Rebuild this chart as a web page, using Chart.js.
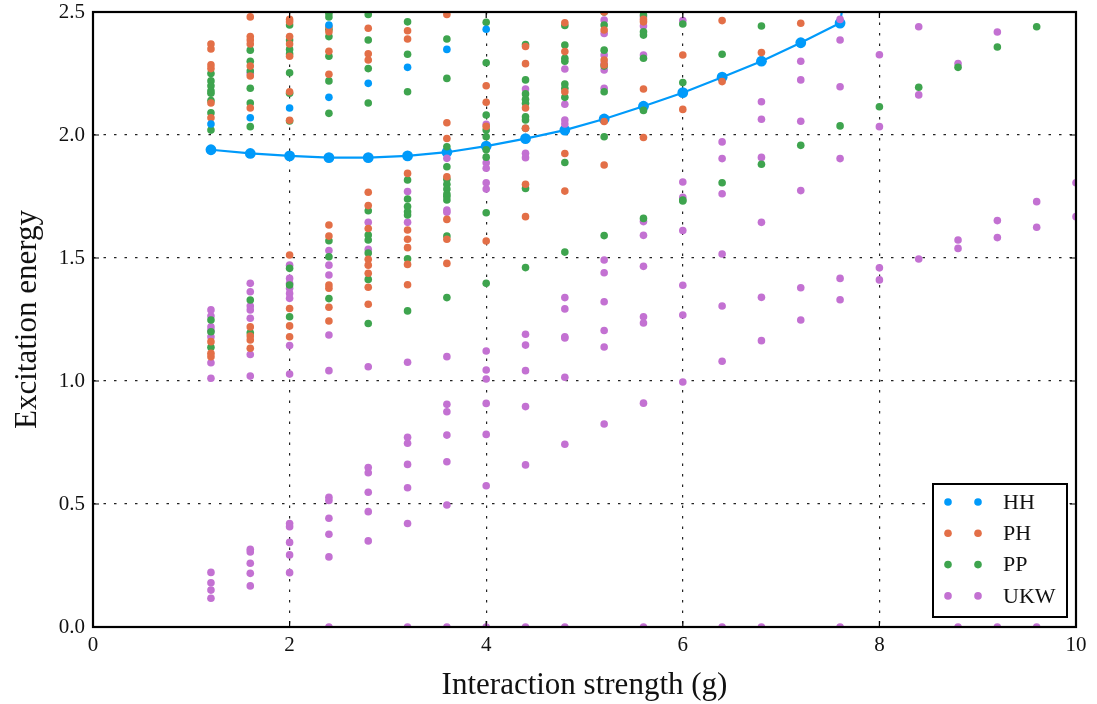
<!DOCTYPE html>
<html>
<head>
<meta charset="utf-8">
<script src="https://cdn.jsdelivr.net/npm/chart.js@4"></script>
<style>
html,body{margin:0;padding:0;background:#fff;}
#wrap{width:1097px;height:704px;}
</style>
</head>
<body>
<div id="wrap"><canvas id="c" width="1097" height="704"></canvas></div>
<script>
// ---- data ----
const seriesNames = ['HH', 'PH', 'PP', 'UKW'];
const seriesColors = ['#009AFA', '#E36F47', '#3EA44E', '#C371D2'];
const gValues = [1.2, 1.6, 2.0, 2.4, 2.8, 3.2, 3.6, 4.0, 4.4, 4.8, 5.2, 5.6, 6.0, 6.4, 6.8, 7.2, 7.6, 8.0, 8.4, 8.8, 9.2, 9.6, 10.0];
const xTickLabels = ['0', '2', '4', '6', '8', '10'];
const yTickLabels = ['0.0', '0.5', '1.0', '1.5', '2.0', '2.5'];

// lowest HH branch (line) for g = 1.2 ... 8.0
const hhLineG = [1.2, 1.6, 2.0, 2.4, 2.8, 3.2, 3.6, 4.0, 4.4, 4.8, 5.2, 5.6, 6.0, 6.4, 6.8, 7.2, 7.6, 8.0];
const hhLineE = [1.94, 1.925, 1.915, 1.908, 1.908, 1.915, 1.93, 1.955, 1.985, 2.02, 2.065, 2.117, 2.172, 2.235, 2.30, 2.375, 2.455, 3.5];

// excitation energies per g column (same order as gValues)
const hhE = [
  [2.045], [2.07], [2.11], [2.447, 2.153], [2.21], [2.275], [2.348], [2.43],
  [], [], [], [], [], [], [], [], [], [], [], [], [], [], []
];
const phE = [
  [2.37, 2.35, 2.285, 2.27, 2.13, 2.07, 1.16, 1.113, 1.099],
  [2.48, 2.40, 2.386, 2.37, 2.28, 2.24, 2.11, 1.22, 1.183, 1.167, 1.133],
  [2.47, 2.46, 2.40, 2.37, 2.32, 2.176, 2.06, 1.512, 1.295, 1.224, 1.18],
  [2.44, 2.42, 2.34, 2.247, 1.634, 1.589, 1.39, 1.377, 1.30, 1.244],
  [2.434, 2.33, 2.305, 1.767, 1.713, 1.62, 1.495, 1.471, 1.438, 1.381, 1.312],
  [2.424, 2.39, 1.844, 1.614, 1.576, 1.542, 1.474, 1.391],
  [2.49, 2.05, 1.986, 1.83, 1.657, 1.576, 1.478],
  [2.20, 2.133, 2.035, 1.569],
  [2.36, 2.29, 2.11, 2.027, 1.80, 1.668],
  [2.456, 2.339, 2.176, 1.925, 1.772],
  [2.50, 2.427, 2.305, 2.285, 2.055, 1.878],
  [2.47, 2.46, 2.187, 1.99],
  [2.325, 2.104],
  [2.465, 2.217],
  [2.335],
  [2.454],
  [], [], [], [], [], [], []
];
const ppE = [
  [2.25, 2.22, 2.20, 2.18, 2.17, 2.14, 2.09, 2.02, 1.248, 1.20, 1.137],
  [2.345, 2.30, 2.26, 2.19, 2.13, 2.034, 1.329, 1.196],
  [2.447, 2.386, 2.348, 2.33, 2.253, 2.17, 2.057, 1.458, 1.39, 1.261],
  [2.495, 2.48, 2.43, 2.40, 2.32, 2.22, 2.088, 1.57, 1.505, 1.335],
  [2.49, 2.386, 2.27, 2.13, 1.692, 1.593, 1.573, 1.52, 1.413, 1.234],
  [2.46, 2.328, 2.176, 1.817, 1.74, 1.709, 1.688, 1.675, 1.497, 1.285],
  [2.39, 2.23, 1.952, 1.871, 1.82, 1.80, 1.78, 1.76, 1.75, 1.736, 1.589, 1.339],
  [2.458, 2.294, 2.081, 2.02, 1.993, 1.94, 1.91, 1.684, 1.397],
  [2.368, 2.224, 2.167, 2.145, 2.129, 2.074, 2.061, 2.027, 1.783, 1.461],
  [2.445, 2.366, 2.312, 2.30, 2.207, 2.19, 2.153, 1.888, 1.524],
  [2.50, 2.447, 2.345, 2.28, 2.176, 1.993, 1.591],
  [2.488, 2.42, 2.406, 2.312, 2.10, 1.661],
  [2.451, 2.213, 1.736, 1.732],
  [2.328, 1.806],
  [2.443, 1.881],
  [1.958],
  [2.037],
  [2.115],
  [2.194],
  [2.275],
  [2.358],
  [2.44],
  []
];
const ukwE = [
  [1.289, 1.264, 1.22, 1.205, 1.18, 1.074, 1.011, 0.222, 0.18, 0.15, 0.117],
  [2.25, 1.397, 1.363, 1.305, 1.289, 1.255, 1.108, 1.02, 0.316, 0.305, 0.259, 0.218, 0.167],
  [1.471, 1.417, 1.397, 1.377, 1.356, 1.336, 1.144, 1.028, 0.421, 0.408, 0.344, 0.293, 0.221],
  [1.53, 1.471, 1.431, 1.187, 1.042, 0.527, 0.514, 0.442, 0.377, 0.285, 0],
  [1.645, 1.535, 1.058, 0.648, 0.627, 0.548, 0.469, 0.35],
  [1.77, 1.645, 1.076, 0.771, 0.747, 0.661, 0.566, 0.421, 0],
  [1.905, 1.695, 1.686, 1.099, 0.905, 0.875, 0.78, 0.672, 0.496, 0],
  [2.043, 1.887, 1.865, 1.806, 1.78, 1.122, 1.045, 1.008, 0.909, 0.783, 0.574, 0],
  [2.187, 1.926, 1.908, 1.19, 1.146, 1.042, 0.896, 0.659, 0],
  [2.268, 2.125, 2.061, 2.045, 1.339, 1.293, 1.18, 1.175, 1.015, 0.743, 0],
  [2.467, 2.413, 2.325, 2.29, 2.264, 2.19, 1.492, 1.44, 1.322, 1.205, 1.138, 0.825],
  [2.48, 2.443, 2.325, 1.648, 1.592, 1.466, 1.261, 1.236, 0.91, 0],
  [2.465, 1.809, 1.747, 1.612, 1.389, 1.268, 0.996],
  [1.972, 1.904, 1.761, 1.516, 1.305, 1.08, 0],
  [2.135, 2.064, 1.909, 1.645, 1.34, 1.164, 0],
  [2.30, 2.224, 2.056, 1.774, 1.379, 1.248],
  [2.47, 2.386, 2.196, 1.904, 1.417, 1.33, 0],
  [2.326, 2.034, 1.46, 1.411],
  [2.44, 2.163, 1.496],
  [2.29, 1.573, 1.539, 0],
  [2.419, 1.652, 1.583, 0],
  [1.729, 1.625, 0],
  [1.806, 1.668]
];
const seriesValues = [hhE, phE, ppE, ukwE];

// ---- build datasets ----
function toPoints(cols) {
  const pts = [];
  cols.forEach((ys, i) => ys.forEach(y => pts.push({ x: gValues[i], y: y })));
  return pts;
}
const SERIF = "'Liberation Serif', 'DejaVu Serif', serif";

const datasets = seriesNames.map((name, i) => ({
  type: 'scatter',
  label: name,
  data: toPoints(seriesValues[i]),
  backgroundColor: seriesColors[i],
  borderColor: seriesColors[i],
  borderWidth: 0,
  pointRadius: 3.8,
  pointHoverRadius: 3.8,
  clip: 0,
  inLegend: true
}));
datasets.push({
  type: 'line',
  label: 'HH branch',
  data: hhLineG.map((g, i) => ({ x: g, y: hhLineE[i] })),
  borderColor: seriesColors[0],
  backgroundColor: seriesColors[0],
  borderWidth: 2.2,
  pointRadius: 5.4,
  pointBorderWidth: 0,
  pointHoverRadius: 5.4,
  tension: 0,
  clip: 0,
  inLegend: false
});

// frame, inner ticks and legend
const framePlugin = {
  id: 'frame',
  afterDraw(chart) {
    const { ctx, chartArea: a, scales } = chart;
    ctx.save();
    ctx.strokeStyle = '#000';
    ctx.lineWidth = 1.2;
    const tl = 6;
    scales.x.ticks.forEach(t => {
      const px = scales.x.getPixelForValue(t.value);
      ctx.beginPath();
      ctx.moveTo(px, a.bottom); ctx.lineTo(px, a.bottom - tl);
      ctx.moveTo(px, a.top); ctx.lineTo(px, a.top + tl);
      ctx.stroke();
    });
    scales.y.ticks.forEach(t => {
      const py = scales.y.getPixelForValue(t.value);
      ctx.beginPath();
      ctx.moveTo(a.left, py); ctx.lineTo(a.left + tl, py);
      ctx.moveTo(a.right, py); ctx.lineTo(a.right - tl, py);
      ctx.stroke();
    });
    ctx.lineWidth = 2.2;
    ctx.strokeRect(a.left, a.top, a.right - a.left, a.bottom - a.top);

    // legend
    const items = chart.data.datasets.filter(d => d.inLegend);
    const bw = 134, bh = 133;
    const bx = a.right - 9 - bw, by = a.bottom - 10 - bh;
    ctx.fillStyle = '#fff';
    ctx.fillRect(bx, by, bw, bh);
    ctx.lineWidth = 2;
    ctx.strokeRect(bx, by, bw, bh);
    ctx.font = '22px ' + SERIF;
    ctx.textBaseline = 'middle';
    ctx.textAlign = 'left';
    items.forEach((d, i) => {
      const cy = by + 18 + i * 31.3;
      ctx.fillStyle = d.backgroundColor;
      [bx + 15, bx + 45].forEach(cx => {
        ctx.beginPath(); ctx.arc(cx, cy, 3.8, 0, Math.PI * 2); ctx.fill();
      });
      ctx.fillStyle = '#111';
      ctx.fillText(d.label, bx + 70, cy + 1);
    });
    ctx.restore();
  }
};

new Chart(document.getElementById('c'), {
  data: { datasets },
  options: {
    responsive: false,
    animation: false,
    devicePixelRatio: 1,
    layout: { padding: { left: 0, right: 21, top: 12, bottom: 0 } },
    plugins: { legend: { display: false }, tooltip: { enabled: false } },
    scales: {
      x: {
        type: 'linear', min: 0, max: 10,
        afterFit(s) { s.height = 77; },
        afterBuildTicks(s) { s.ticks = xTickLabels.map(v => ({ value: parseFloat(v) })); },
        ticks: { callback: (v) => xTickLabels.find(l => parseFloat(l) === v), color: '#111', font: { family: SERIF, size: 21 }, padding: 6, maxRotation: 0 },
        grid: { color: '#222', lineWidth: 1.2, drawTicks: false },
        border: { display: false, dash: [2.5, 8] },
        title: { display: true, text: 'Interaction strength (g)', color: '#111', font: { family: SERIF, size: 31 }, padding: { top: 0, bottom: 0 } }
      },
      y: {
        type: 'linear', min: 0, max: 2.5,
        afterFit(s) { s.width = 93; s.paddingTop = 0; s.paddingBottom = 0; },
        afterBuildTicks(s) { s.ticks = yTickLabels.map(v => ({ value: parseFloat(v) })); },
        ticks: { callback: (v) => yTickLabels.find(l => parseFloat(l) === v), color: '#111', font: { family: SERIF, size: 21 }, padding: 8 },
        grid: { color: '#222', lineWidth: 1.2, drawTicks: false },
        border: { display: false, dash: [2.5, 8] },
        title: { display: true, text: 'Excitation energy', color: '#111', font: { family: SERIF, size: 31 }, padding: { top: 9, bottom: 0 } }
      }
    }
  },
  plugins: [framePlugin]
});
</script>
</body>
</html>
